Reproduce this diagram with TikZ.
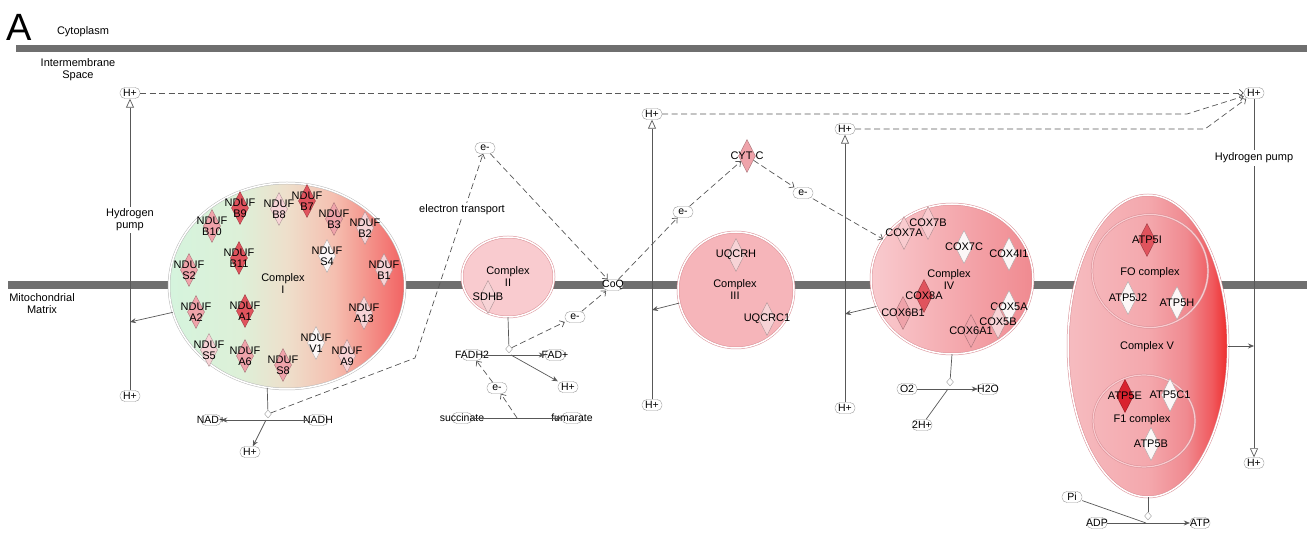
\documentclass[tikz,border=0pt]{standalone}
\usepackage{fontspec}
\setmainfont{Liberation Sans}
\usetikzlibrary{shapes.geometric,arrows.meta,calc,positioning}

\definecolor{membrane}{HTML}{6F6F6F}
\definecolor{linegray}{HTML}{585858}
\definecolor{molgray}{HTML}{9A9A9A}
\definecolor{cxgreen}{HTML}{D5F4DD}
\definecolor{cxmint}{HTML}{DDF0D8}
\definecolor{cxbeige}{HTML}{EEDFCB}
\definecolor{cxsalmon}{HTML}{F5BFB0}
\definecolor{cxred}{HTML}{F26262}
\definecolor{cxpink}{HTML}{F9CBCF}
\definecolor{cxrose}{HTML}{F6B5BA}
\definecolor{cxdeep}{HTML}{F08A90}
\definecolor{cxline}{HTML}{D98E95}
\definecolor{cxvleft}{HTML}{F6BCC0}
\definecolor{cxvmid}{HTML}{F4A8AD}
\definecolor{cxvwarm}{HTML}{F05A5E}
\definecolor{cxvred}{HTML}{EE2B2B}
\definecolor{gnred}{HTML}{E0535D}
\definecolor{gnvred}{HTML}{D9222E}
\definecolor{gnpink}{HTML}{EFA3AA}
\definecolor{gnlight}{HTML}{F7D3D6}
\definecolor{gnwhite}{HTML}{FCF7F7}

% fills of complex I and complex V
\pgfdeclarehorizontalshading{cxIshade}{100bp}{color(0bp)=(cxgreen); color(25bp)=(cxgreen);
  color(40bp)=(cxmint); color(50bp)=(cxbeige); color(60bp)=(cxsalmon); color(75bp)=(cxred); color(100bp)=(cxred)}
\pgfdeclarehorizontalshading{cxVshade}{100bp}{color(0bp)=(cxvleft); color(25bp)=(cxvleft);
  color(50bp)=(cxvmid); color(62bp)=(cxdeep); color(70bp)=(cxvwarm); color(75bp)=(cxvred); color(100bp)=(cxvred)}

\tikzset{
  txt/.style={font=\fontsize{11}{12}\selectfont, align=center, inner sep=1pt},
  gtxt/.style={font=\fontsize{11}{11}\selectfont, align=center, inner sep=0pt},
  mol/.style={draw=molgray, fill=white, rounded corners=5pt, minimum width=20pt, minimum height=11pt, inner sep=0pt},
  moltxt/.style={font=\fontsize{10.5}{12}\selectfont, inner sep=0pt},
  gene/.style={diamond, draw=#1!70!black, line width=0.4pt, fill=#1, minimum width=17pt, minimum height=33pt, inner sep=0pt},
  cplx/.style={ellipse, draw=#1, double=white, double distance=1.5pt, line width=0.5pt, inner sep=0pt},
  subcplx/.style={ellipse, draw=cxline, double=cxpink, double distance=1.2pt, line width=0.5pt, inner sep=0pt},
  junc/.style={diamond, draw=molgray, fill=white, minimum width=7pt, minimum height=8pt, inner sep=0pt},
  link/.style={draw=linegray, line width=0.7pt},
  rxn/.style={link, -{Stealth[length=6pt,width=5pt]}},
  etr/.style={link, dash pattern=on 6pt off 3.5pt, -{Straight Barb[length=4pt,width=7pt]}},
  pump/.style={link, -{Triangle[open,length=9pt,width=8pt]}},
}

\newcommand{\GeneMark}[4]{% #1=name, #2=position, #3=fill, #4=label
  \node[gene=#3] (#1) at (#2) {};
  \node[gtxt] (#1-lbl) at (#1) {#4};
}
\newcommand{\Mol}[3]{% #1=name, #2=position, #3=label
  \node[mol] (#1) at (#2) {};
  \node[moltxt] (#1-lbl) at (#1) {#3};
}

\begin{document}
\begin{tikzpicture}[x=1pt, y=-1pt]
\useasboundingbox (0,0) rectangle (1307,534);

% membranes
\fill[membrane] (16,45) rectangle (1307,52);
\fill[membrane] (8,281) rectangle (1307,289);

\node[font=\fontsize{38}{38}\selectfont, inner sep=0pt] (panel) at (19,27) {A};
\node[txt] (cyto) at (83,32) {Cytoplasm};
\node[txt] (ims) at (78,70) {Intermembrane\\Space};
\node[txt] (matrix) at (42,304) {Mitochondrial\\Matrix};

% complexes
\node[cplx=gray!55, shading=cxIshade,
      minimum width=236pt, minimum height=206pt] (cI) at (287,286) {};
\node[cplx=cxline, fill=cxpink, minimum width=92pt, minimum height=80pt] (cII) at (508,277) {};
\node[cplx=cxline, fill=cxrose, minimum size=116pt] (cIII) at (736,290) {};
\node[cplx=cxline, left color=cxpink, right color=cxdeep,
      minimum width=162pt, minimum height=150pt] (cIV) at (952,279) {};
\node[cplx=cxline, shading=cxVshade,
      minimum width=160pt, minimum height=302pt] (cV) at (1148,346) {};
\node[subcplx, minimum width=116pt, minimum height=113pt] (fo) at (1150,271) {};
\node[subcplx, minimum width=102pt, minimum height=92pt] (f1) at (1144,421) {};

% complex I genes
\GeneMark{b9}{240,208}{gnred}{NDUF\\B9}
\GeneMark{b8}{279,209}{gnlight}{NDUF\\B8}
\GeneMark{b7}{307,201}{gnred}{NDUF\\B7}
\GeneMark{b10}{212,226}{gnpink}{NDUF\\B10}
\GeneMark{b3}{334,219}{gnpink}{NDUF\\B3}
\GeneMark{b2}{365,228}{gnlight}{NDUF\\B2}
\GeneMark{b11}{239,258}{gnred}{NDUF\\B11}
\GeneMark{s4}{327,256}{gnwhite}{NDUF\\S4}
\GeneMark{s2}{189,270}{gnpink}{NDUF\\S2}
\GeneMark{b1}{384,270}{gnlight}{NDUF\\B1}
\GeneMark{a2}{196,312}{gnpink}{NDUF\\A2}
\GeneMark{a1}{245,311}{gnred}{NDUF\\A1}
\GeneMark{a13}{364,313}{gnlight}{NDUF\\A13}
\GeneMark{s5}{209,350}{gnlight}{NDUF\\S5}
\GeneMark{a6}{245,356}{gnpink}{NDUF\\A6}
\GeneMark{s8}{283,365}{gnpink}{NDUF\\S8}
\GeneMark{v1}{316,343}{gnwhite}{NDUF\\V1}
\GeneMark{a9}{347,356}{gnlight}{NDUF\\A9}

% complex II, III genes
\GeneMark{sdhb}{488,297}{gnlight}{SDHB}
\GeneMark{uqcrh}{736,255}{gnlight}{UQCRH}
\GeneMark{uqcrc1}{767,319}{gnlight}{UQCRC1}
\GeneMark{cytc}{747,156}{gnpink}{CYT C}

% complex IV genes
\GeneMark{cox7b}{928,223}{cxpink}{COX7B}
\GeneMark{cox7a}{904,233}{cxpink}{COX7A}
\GeneMark{cox7c}{964,247}{gnwhite}{COX7C}
\GeneMark{cox4i1}{1009,254}{gnwhite}{COX4I1}
\GeneMark{cox8a}{924,296}{gnred}{COX8A}
\GeneMark{cox6b1}{903,313}{gnpink}{COX6B1}
\GeneMark{cox5a}{1009,307}{gnwhite}{COX5A}
\GeneMark{cox5b}{998,322}{gnlight}{COX5B}
\GeneMark{cox6a1}{971,331}{gnpink}{COX6A1}

% complex V genes
\GeneMark{atp5i}{1147,240}{gnred}{ATP5I}
\GeneMark{atp5j2}{1128,298}{gnwhite}{ATP5J2}
\GeneMark{atp5h}{1177,303}{gnwhite}{ATP5H}
\GeneMark{atp5e}{1125,396}{gnvred}{ATP5E}
\GeneMark{atp5c1}{1170,395}{gnwhite}{ATP5C1}
\GeneMark{atp5b}{1151,444}{gnwhite}{ATP5B}

\node[txt] (cI-lbl) at (283,284) {Complex\\I};
\node[txt] (cII-lbl) at (508,277) {Complex\\II};
\node[txt] (cIII-lbl) at (735,290) {Complex\\III};
\node[txt] (cIV-lbl) at (949,280) {Complex\\IV};
\node[txt] (cV-lbl) at (1147,347) {Complex V};
\node[txt] (fo-lbl) at (1150,273) {FO complex};
\node[txt] (f1-lbl) at (1142,420) {F1 complex};

% protons
\Mol{hL}{130,93}{H+}
\Mol{hLb}{130,396}{H+}
\Mol{hIII}{652,114}{H+}
\Mol{hIIIb}{652,405}{H+}
\Mol{hIV}{845,129}{H+}
\Mol{hIVb}{845,408}{H+}
\Mol{hR}{1254,93}{H+}
\Mol{hRb}{1254,463}{H+}

\coordinate (hkIII) at (1187,114);
\coordinate (hkIV) at (1205,129);
\draw[etr] (hL) -- (hR);
\draw[etr] (hIII) -- (hkIII) -- (hR);
\draw[etr] (hIV) -- (hkIV) -- (hR);

\draw[pump] (hLb) -- (hL);
\draw[pump] (hIIIb) -- (hIII);
\draw[pump] (hIVb) -- (hIV);
\draw[pump] (hR) -- (hRb);
\node[txt, fill=white, inner sep=2pt] (pumpL) at (130,220) {Hydrogen\\pump};
\node[txt, fill=white, inner sep=3pt] (pumpR) at (1254,158) {Hydrogen pump};

\coordinate (pI) at (130,322);
\coordinate (pIII) at (652,310);
\coordinate (pIV) at (845,314);
\coordinate (pV) at (1254,346);
\draw[rxn] (cI.193) -- (pI);
\draw[rxn] (cIII.193) -- (pIII);
\draw[rxn] (cIV.200) -- (pIV);
\draw[rxn] (cV.east) -- (pV);

% complex I reaction
\Mol{nad}{211,420}{NAD+}
\Mol{nadh}{318,420}{NADH}
\Mol{hN}{250,452}{H+}
\node[junc] (jI) at (268,414) {};
\coordinate (rI) at (266,420);
\coordinate (bendI) at (415,358);
\draw[link] (cI.259) -- (jI);
\draw[rxn] (nadh) -- (nad);
\draw[rxn] (rI) -- (hN);

% electrons to CoQ
\Mol{eA}{485,148}{e-}
\Mol{coq}{613,285}{CoQ}
\draw[etr] (jI) -- (bendI) -- (eA);
\draw[etr] (eA) -- (coq);
\node[txt, fill=white, inner sep=2pt] (etrans) at (462,210) {electron transport};

% complex II reaction
\node[junc] (jII) at (509,349) {};
\coordinate (rII) at (511,355);
\coordinate (rS) at (517,418);
\Mol{fadh}{472,355}{FADH2}
\Mol{fad}{555,355}{FAD+}
\Mol{hF}{568,387}{H+}
\Mol{eB}{575,317}{e-}
\Mol{eC}{497,388}{e-}
\Mol{succ}{462,418}{succinate}
\Mol{fum}{572,418}{fumarate}
\draw[link] (cII.south) -- (jII);
\draw[rxn] (fadh) -- (fad);
\draw[rxn] (rII) -- (hF);
\draw[etr] (jII) -- (eB);
\draw[etr] (eB) -- (coq);
\draw[rxn] (succ) -- (fum);
\draw[etr] (rS) -- (eC);
\draw[etr] (eC) -- (fadh);

% cytochrome c
\Mol{eD}{683,212}{e-}
\Mol{eE}{803,193}{e-}
\draw[etr] (coq) -- (eD);
\draw[etr] (eD) -- (cytc);
\draw[etr] (cytc) -- (eE);
\draw[etr] (eE) -- (cIV.150);

% complex IV reaction
\node[junc] (jIV) at (950,382) {};
\coordinate (rIV) at (948,389);
\Mol{o2}{907,389}{O2}
\Mol{h2o}{988,389}{H2O}
\Mol{h2}{922,425}{2H+}
\draw[link] (cIV.south) -- (jIV);
\draw[rxn] (o2) -- (h2o);
\draw[link] (h2) -- (rIV);

% complex V reaction
\node[junc] (jV) at (1148,516) {};
\coordinate (rV) at (1146,523);
\Mol{pi}{1072,497}{Pi}
\Mol{adp}{1097,523}{ADP}
\Mol{atp}{1200,523}{ATP}
\draw[link] (cV.south) -- (jV);
\draw[rxn] (adp) -- (atp);
\draw[link] (pi) -- (rV);

\end{tikzpicture}
\end{document}
